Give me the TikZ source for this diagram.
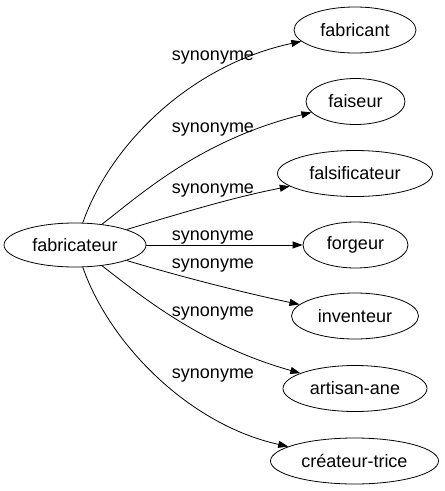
\documentclass[tikz,border=0pt]{standalone}
\usepackage{fontspec}
\setmainfont{Liberation Sans}
\usetikzlibrary{arrows.meta,shapes.geometric}
\begin{document}
\begin{tikzpicture}[x=1pt,y=-1pt,
  word/.style={draw, ellipse, line width=0.8pt, inner sep=0pt, minimum height=46pt, font=\fontsize{18}{20}\selectfont},
  rel/.style={draw, line width=0.8pt, -{Triangle[length=10pt,width=7pt]}},
  lab/.style={anchor=base, inner sep=0pt, font=\fontsize{18}{20}\selectfont}]
\useasboundingbox (0,0) rectangle (445,491);
\node[word, minimum width=142pt, minimum height=44pt] (src) at (75,245) {fabricateur};
\node[word, minimum width=122pt] (n1) at (355,30) {fabricant};
\node[word, minimum width=99pt] (n2) at (355.5,101.5) {faiseur};
\node[word, minimum width=155pt] (n3) at (355,173.5) {falsificateur};
\node[word, minimum width=105pt] (n4) at (355.5,245) {forgeur};
\node[word, minimum width=127pt] (n5) at (355,316) {inventeur};
\node[word, minimum width=144pt] (n6) at (355,388.5) {artisan-ane};
\node[word, minimum width=168pt] (n7) at (354.5,461) {créateur-trice};
\draw[rel] (src) .. controls (110,145) and (190,65) .. (n1);
\draw[rel] (src) .. controls (140,195) and (200,140) .. (n2);
\draw[rel] (src) .. controls (175,215) and (230,198) .. (n3);
\draw[rel] (src) -- (n4);
\draw[rel] (src) .. controls (175,275) and (240,292) .. (n5);
\draw[rel] (src) .. controls (140,295) and (200,345) .. (n6);
\draw[rel] (src) .. controls (110,345) and (190,425) .. (n7);
\node[lab] (l1) at (213,60) {synonyme};
\node[lab] (l2) at (213,132) {synonyme};
\node[lab] (l3) at (213,193) {synonyme};
\node[lab] (l4) at (213,240) {synonyme};
\node[lab] (l5) at (213,268) {synonyme};
\node[lab] (l6) at (213,316) {synonyme};
\node[lab] (l7) at (213,378) {synonyme};
\end{tikzpicture}
\end{document}
